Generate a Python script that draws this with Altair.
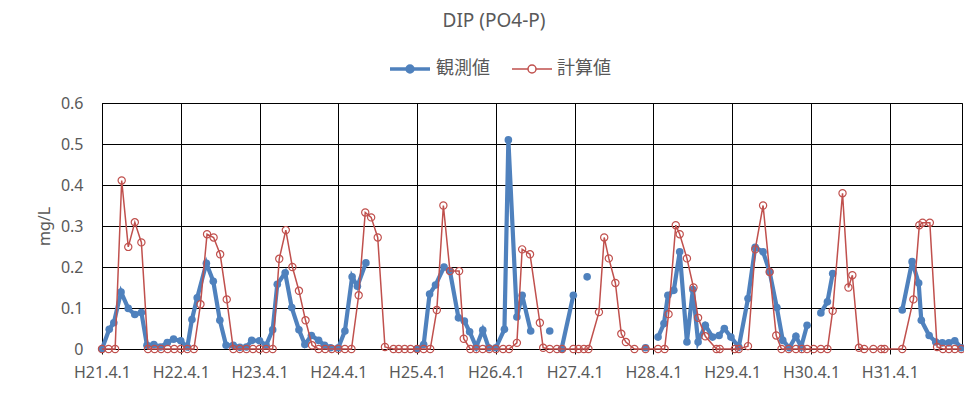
import altair as alt
import pandas as pd

BLUE = "#4F81BD"
RED = "#C0504D"
TXT = "#595959"

# months since H21.4.1 (observation dates are irregular)
obs_t = [0, 1.1, 1.8, 2.9, 4.0, 5.0, 6.0, 6.85, 7.9, 8.9, 9.95, 10.9, 12.0, 13.0, 13.7, 14.5,
         15.9, 16.95, 17.95, 18.9, 20.0, 21.0, 22.0, 22.8, 24.0, 25.0, 26.0, 26.7, 27.9, 28.9,
         30.0, 30.9, 31.9, 33.0, 33.9, 34.8, 36.0, 37.0, 38.1, 38.9, 40.2,
         48.0, 49.0, 49.9, 50.8, 52.1, 53.0, 54.3, 55.2, 56.0, 57.0, 58.0, 58.9, 60.0, 61.3,
         61.9, 63.2, 64.0, 65.3,
         68.2,
         70.0, 71.8,
         73.9,
         82.8,
         84.7, 85.6, 86.2, 87.1, 88.0, 89.1, 90.0, 90.8, 91.9, 93.0, 94.0, 94.8, 95.8, 97.0,
         98.4, 99.5, 100.7, 101.7, 102.8, 103.7, 104.7, 105.7, 106.5, 107.4,
         109.5, 110.5, 111.3,
         121.9, 123.4, 124.4, 124.8, 126.0, 127.0, 128.0, 129.0, 129.9, 130.9]
obs_v = [0.0, 0.048, 0.064, 0.139, 0.099, 0.084, 0.089, 0.009, 0.011, 0.005, 0.016, 0.024, 0.02, 0.005, 0.072, 0.125,
         0.209, 0.165, 0.07, 0.009, 0.009, 0.004, 0.005, 0.021, 0.02, 0.009, 0.047, 0.158, 0.186, 0.101,
         0.047, 0.011, 0.033, 0.021, 0.009, 0.003, 0.003, 0.044, 0.176, 0.153, 0.21,
         0.0, 0.011, 0.134, 0.156, 0.2, 0.19, 0.076, 0.068, 0.042, 0.005, 0.046, 0.003, 0.003, 0.048,
         0.51, 0.078, 0.131, 0.044,
         0.044,
         0.0, 0.131,
         0.176,
         0.003,
         0.029, 0.062, 0.131, 0.143, 0.237, 0.017, 0.145, 0.017, 0.058, 0.029, 0.033, 0.05, 0.029, 0.005,
         0.123, 0.248, 0.237, 0.188, 0.101, 0.021, 0.003, 0.031, 0.005, 0.058,
         0.088, 0.115, 0.184,
         0.095, 0.213, 0.161, 0.07, 0.033, 0.017, 0.015, 0.015, 0.02, 0.003]
obs_seg = [1] * 41 + [2] * 18 + [3] + [4] * 2 + [5] + [6] + [7] * 24 + [8] * 3 + [9] * 10

calc_t = [0, 1, 2, 3, 4, 5, 6, 7, 8, 9, 10, 11, 12, 13, 14, 15, 16, 17, 18, 19,
          20, 21, 22, 23, 24, 25, 26, 27, 28, 29, 30, 31, 32, 33, 34, 35, 36, 37, 38,
          39.1, 40.1, 41, 42, 43.1, 44.4, 45.2, 46.1, 47, 48, 49, 50, 51, 52, 53, 54.4, 55.1,
          56.1, 57, 58, 59, 60, 61.1, 62, 63.2, 64, 65.2, 66.7, 67.2, 68.2, 69.3, 70.1,
          71.8, 72.6, 73.4, 74.1, 75.7, 76.5, 77.2, 78.2, 79.1, 79.8, 81.1, 82.8, 84.7, 85.7,
          86.3, 87.4, 88.0, 89.1, 90.1, 90.8, 91.9, 93.6, 94.1, 96.4, 97.0, 98.4, 99.5, 100.7,
          101.7, 102.7, 103.5, 104.6, 105.7, 106.6, 107.4, 108.4, 109.5, 110.5, 111.3, 112.8,
          113.7, 114.3, 115.3, 116.1, 117.5, 118.7, 119.2, 121.9, 123.6, 124.5, 125.0, 126.1,
          127.2, 128.1, 129.0, 129.9, 130.9]
calc_v = [0, 0, 0, 0.411, 0.249, 0.309, 0.26, 0, 0, 0, 0, 0, 0, 0, 0, 0.109, 0.28, 0.272, 0.231, 0.121,
          0, 0, 0, 0, 0, 0, 0, 0.22, 0.29, 0.2, 0.142, 0.07, 0.009, 0, 0, 0, 0, 0, 0,
          0.131, 0.333, 0.321, 0.272, 0.005, 0, 0, 0, 0, 0, 0, 0, 0.095, 0.35, 0.19, 0.19, 0.025,
          0, 0, 0, 0, 0, 0, 0, 0.015, 0.243, 0.231, 0.064, 0.003, 0, 0, 0,
          0, 0, 0, 0, 0.09, 0.272, 0.221, 0.161, 0.037, 0.017, 0, 0, 0, 0,
          0.085, 0.302, 0.28, 0.221, 0.15, 0.076, 0.031, 0, 0, 0, 0, 0.007, 0.243, 0.35,
          0.188, 0.033, 0, 0, 0, 0, 0, 0, 0, 0, 0.093, 0.38,
          0.15, 0.18, 0.003, 0, 0, 0, 0, 0, 0.121, 0.302, 0.308, 0.308,
          0.005, 0, 0, 0, 0]

series_names = ["観測値", "計算値"]
year_ticks = list(range(0, 121, 12))
y_ticks = [0, 0.1, 0.2, 0.3, 0.4, 0.5, 0.6]

obs = pd.DataFrame({"t": obs_t, "v": obs_v, "seg": obs_seg})
calc = pd.DataFrame({"t": calc_t, "v": calc_v})
leg = pd.DataFrame({"t": [0, 0], "v": [0, 0], "series": series_names})

LATIN = "Noto Sans"
CJK = "Noto Sans CJK JP"

xenc = alt.X(
    "t:Q",
    scale=alt.Scale(domain=[0, 131], nice=False, zero=False),
    axis=alt.Axis(
        values=year_ticks,
        labelExpr="'H' + (21 + datum.value / 12) + '.4.1'",
        grid=True, gridColor="#000000", gridWidth=1,
        ticks=True, tickSize=5, tickColor="#000000",
        domainColor="#000000",
        labelFont=LATIN, labelFontSize=16, labelColor=TXT, labelPadding=10,
        labelFlush=False, labelOverlap=False,
    ),
    title=None,
)
yenc = alt.Y(
    "v:Q",
    scale=alt.Scale(domain=[0, 0.6], nice=False),
    axis=alt.Axis(
        values=y_ticks, format=".1~f",
        grid=True, gridColor="#000000", gridWidth=1,
        ticks=False, tickSize=0, domainColor="#000000",
        labelFont=LATIN, labelFontSize=16, labelColor=TXT, labelPadding=19,
        title="mg/L", titleFont=LATIN, titleFontSize=16, titleColor=TXT,
        titleFontWeight="normal", titleX=-50, titleY=123,
    ),
)

blue_line = alt.Chart(obs).mark_line(color=BLUE, strokeWidth=4.2).encode(
    x=xenc, y=yenc, detail="seg:N"
)
blue_pts = alt.Chart(obs).mark_circle(color=BLUE, size=58, opacity=1).encode(x=xenc, y=yenc)
red_line = alt.Chart(calc).mark_line(color=RED, strokeWidth=1.5).encode(x=xenc, y=yenc)
red_pts = alt.Chart(calc).mark_point(
    shape="circle", color=RED, size=52, strokeWidth=1.2, opacity=1, filled=False
).encode(x=xenc, y=yenc)

PATH_BLUE = "M-1,0L1,0M0.15,0A0.15,0.15,0,1,1,-0.15,0A0.15,0.15,0,1,1,0.15,0Z"
PATH_RED = "M-1,0L-0.2,0M0.2,0L1,0M0.2,0A0.2,0.2,0,1,1,-0.2,0A0.2,0.2,0,1,1,0.2,0Z"

legend = alt.Legend(
    title=None, orient="none", legendX=286, legendY=-56, direction="horizontal",
    labelFont=CJK, labelFontSize=18, labelColor=TXT, labelOffset=4,
    columnPadding=19, padding=0, symbolSize=1600,
)
legend_layer = alt.Chart(leg).transform_filter("false").mark_point(opacity=1).encode(
    x=xenc, y=yenc,
    shape=alt.Shape("series:N", scale=alt.Scale(domain=series_names, range=[PATH_BLUE, PATH_RED]), legend=legend),
    stroke=alt.Stroke("series:N", scale=alt.Scale(domain=series_names, range=[BLUE, RED]), legend=legend),
    fill=alt.Fill("series:N", scale=alt.Scale(domain=series_names, range=[BLUE, "#ffffff"]), legend=legend),
    strokeWidth=alt.StrokeWidth("series:N", scale=alt.Scale(domain=series_names, range=[3.5, 1.5]), legend=legend),
)

chart = alt.layer(blue_line, blue_pts, red_line, red_pts, legend_layer).properties(
    width=860, height=246,
    title=alt.Title("DIP (PO4-P)", font=LATIN, fontSize=19, fontWeight="normal", color=TXT,
                    anchor="middle", dx=-38, dy=-3, offset=13),
    autosize=alt.AutoSizeParams(type="none"),
    padding={"left": 94, "top": 95, "right": 2, "bottom": 35},
).configure_view(stroke="#000000", strokeWidth=1)

chart.save("out.html", embed_options={"renderer": "svg", "actions": False})
